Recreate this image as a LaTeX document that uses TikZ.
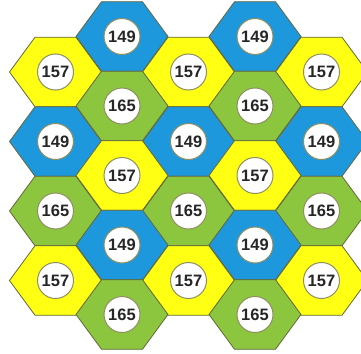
\documentclass[tikz,border=0pt]{standalone}
\usepackage{fontspec}
\setmainfont{Liberation Sans}
\usetikzlibrary{positioning}
\definecolor{cBlue}{HTML}{1E98DC}
\definecolor{cYellow}{HTML}{FFFF14}
\definecolor{cGreen}{HTML}{8CC63F}
\definecolor{cEdge}{HTML}{62683C}
\definecolor{cRing}{HTML}{8E8E62}

\begin{document}
\begin{tikzpicture}[x=1pt,y=-1pt,font=\fontsize{16.5}{19}\selectfont\bfseries,
  hexcell/.style={draw=cEdge,line width=0.8pt,line join=miter},
  num/.style={circle,draw=cRing,fill=white,line width=1pt,
              minimum size=36pt,inner sep=0pt,text=black!85}]
\useasboundingbox (0,0) rectangle (361,353);
\clip (0,0) rectangle (361,353);
% odd columns
\foreach \c/\x in {1/55.5,3/188.5,5/321.5}
  \foreach \r/\y/\col/\n in {1/72/cYellow/157,2/141.5/cBlue/149,
                             3/211/cGreen/165,4/280.5/cYellow/157}{
    \draw[hexcell,fill=\col] (\x-46,\y) -- ++(25.5,-34.75) -- ++(41,0)
      -- ++(25.5,34.75) -- ++(-25.5,34.75) -- ++(-41,0) -- cycle;
    \node[num] (n\c\r) at (\x,\y) {\n};
  }
% even columns
\foreach \c/\x in {2/122,4/255}
  \foreach \r/\y/\col/\n in {1/36.5/cBlue/149,2/106/cGreen/165,
                             3/175.5/cYellow/157,4/245/cBlue/149,5/314.5/cGreen/165}{
    \draw[hexcell,fill=\col] (\x-46,\y) -- ++(25.5,-34.75) -- ++(41,0)
      -- ++(25.5,34.75) -- ++(-25.5,34.75) -- ++(-41,0) -- cycle;
    \node[num] (n\c\r) at (\x,\y) {\n};
  }
\end{tikzpicture}
\end{document}
